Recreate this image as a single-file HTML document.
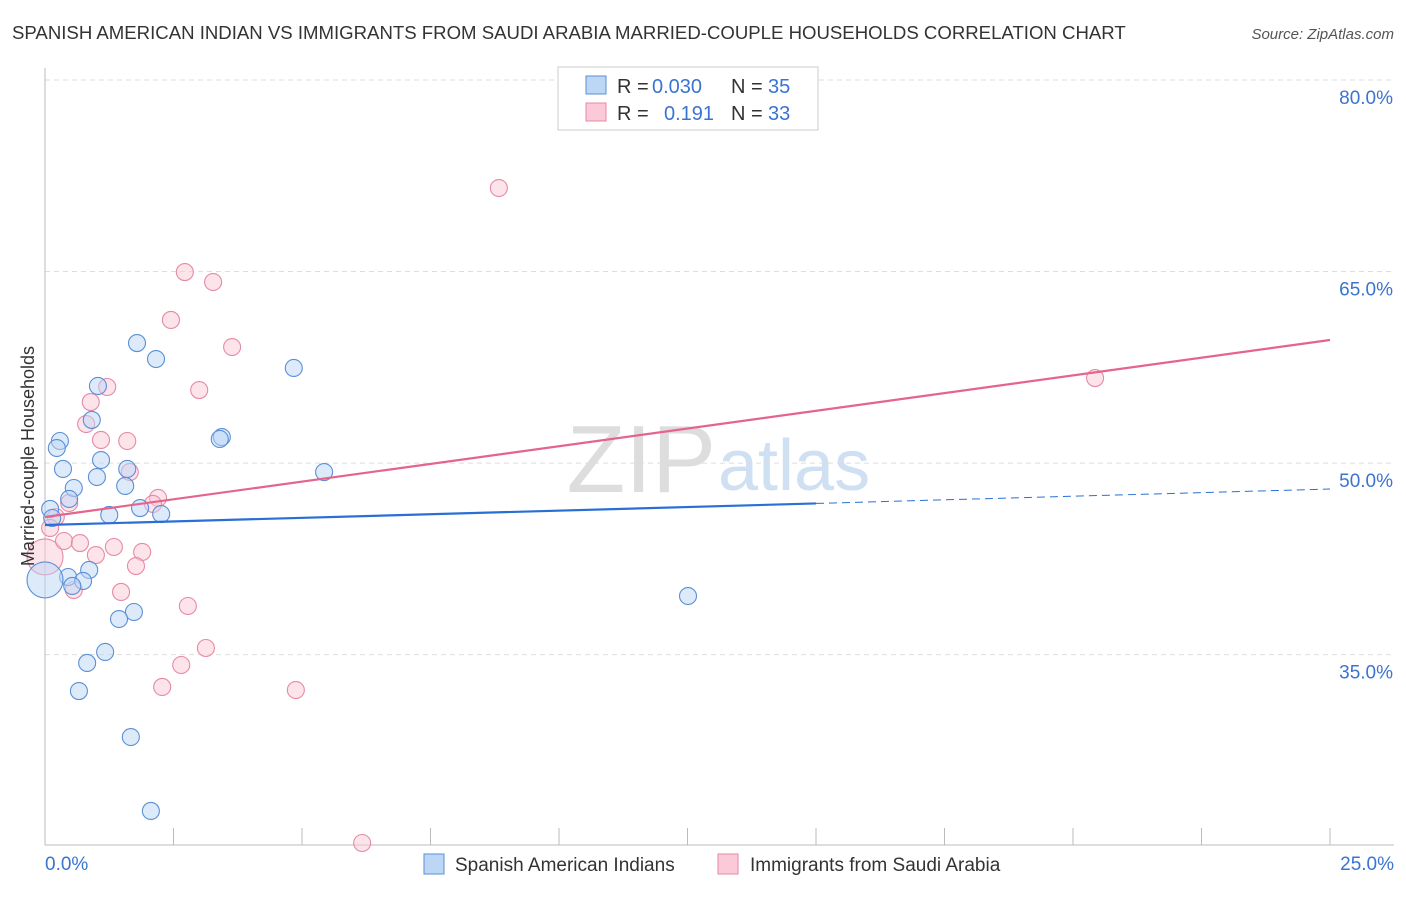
<!DOCTYPE html>
<html><head><meta charset="utf-8"><style>
body{margin:0;background:#fff;font-family:"Liberation Sans",sans-serif}
svg text{font-family:"Liberation Sans",sans-serif}
</style></head><body>
<svg width="1406" height="892" id="chart">
<text x="12" y="39" font-size="18.6" fill="#333">SPANISH AMERICAN INDIAN VS IMMIGRANTS FROM SAUDI ARABIA MARRIED-COUPLE HOUSEHOLDS CORRELATION CHART</text>
<text x="1394" y="39" font-size="15" fill="#555" font-style="italic" text-anchor="end">Source: ZipAtlas.com</text>
<text x="716" y="492" font-size="96" fill="#ddd" text-anchor="end" font-family="Liberation Serif">ZIP</text>
<text x="718" y="490" font-size="72" fill="#cfe0f2">atlas</text>
<g id="grid"></g>
<g id="marks"></g>
<text transform="translate(34,456) rotate(-90)" font-size="18" fill="#333" text-anchor="middle">Married-couple Households</text>
<rect x="558" y="67" width="260" height="63" fill="#fff" stroke="#ccc"/>
<rect x="586" y="76" width="20" height="18" fill="#bcd6f6" stroke="#5b8fd6"/>
<rect x="586" y="103" width="20" height="18" fill="#fbc9d7" stroke="#e58aa5"/>
<g font-size="20">
<text x="617" y="93" fill="#333">R =</text><text x="652" y="93" fill="#3a74d0">0.030</text>
<text x="731" y="93" fill="#333">N =</text><text x="768" y="93" fill="#3a74d0">35</text>
<text x="617" y="120" fill="#333">R =</text><text x="664" y="120" fill="#3a74d0">0.191</text>
<text x="731" y="120" fill="#333">N =</text><text x="768" y="120" fill="#3a74d0">33</text>
</g>
<rect x="424" y="854" width="20" height="20" fill="#bcd6f6" stroke="#5b8fd6"/>
<text x="455" y="871" font-size="19" fill="#333">Spanish American Indians</text>
<rect x="718" y="854" width="20" height="20" fill="#fbc9d7" stroke="#e58aa5"/>
<text x="750" y="871" font-size="19" fill="#333">Immigrants from Saudi Arabia</text>
</svg>
<script>
const blueX=[1.79,2.16,4.84,1.03,0.91,0.29,0.23,3.44,3.40,1.09,0.35,1.60,1.01,5.43,1.56,0.56,0.47,1.85,1.25,2.26,0.10,0.14,0.86,0.45,0.74,0.53,12.51,1.73,1.44,1.17,0.82,0.66,1.67,2.06,0];
const blueY=[59.40,58.15,57.45,56.04,53.38,51.73,51.18,52.04,51.89,50.24,49.54,49.54,48.91,49.30,48.21,48.05,47.19,46.48,45.94,46.01,46.41,45.70,41.63,41.08,40.77,40.38,39.59,38.34,37.79,35.21,34.35,32.15,28.55,22.76,40.85];
const pinkX=[8.83,2.72,3.27,2.45,3.64,3.00,1.21,0.89,0.80,1.09,1.60,1.65,2.20,2.10,0.47,0.21,0.10,0,0.37,0.68,0.99,1.34,1.89,1.77,1.48,0.56,2.78,3.13,2.65,2.28,4.88,6.17,20.43];
const pinkY=[71.54,64.96,64.18,61.21,59.09,55.72,55.96,54.78,53.06,51.81,51.73,49.30,47.27,46.80,46.88,45.78,44.92,42.65,43.90,43.74,42.80,43.43,43.04,41.94,39.91,40.06,38.81,35.52,34.19,32.47,32.23,20.25,56.66];
const yTicks=[80,65,50,35];
const xTickLabels=["0.0%","25.0%"];
const blueTrend=[45.15,47.97];
const pinkTrend=[45.78,59.64];
const sx=v=>45+v*51.4, sy=v=>80+(80-v)*12.77;
const NS="http://www.w3.org/2000/svg";
function mk(t,a,p){const e=document.createElementNS(NS,t);for(const k in a)e.setAttribute(k,a[k]);p.appendChild(e);return e;}
const grid=document.getElementById('grid'),marks=document.getElementById('marks');
yTicks.forEach(v=>{
 const l=mk('line',{x1:45,x2:1394,y1:sy(v),y2:sy(v),stroke:'#ddd','stroke-dasharray':'5,4'},grid);
 
 
 const t=mk('text',{x:1393,y:sy(v)+24,'font-size':19,fill:'#3a74d0','text-anchor':'end'},grid);
 t.textContent=v.toFixed(1)+'%';
 
 
});
const ax=mk('line',{x1:45,x2:45,y1:68,y2:845,stroke:'#bbb'},grid);


const bx=mk('line',{x1:45,x2:1394,y1:845,y2:845,stroke:'#bbb'},grid);


for(let i=0;i<=10;i++){
 const tk=mk('line',{x1:sx(i*2.5),x2:sx(i*2.5),y1:828,y2:845,stroke:'#bbb'},grid);
 
 
}
[[0,'start',45],[25,'end',1394]].forEach((d,i)=>{
 const t=mk('text',{x:d[2],y:870,'font-size':19,fill:'#3a74d0','text-anchor':d[1]},grid);
 t.textContent=xTickLabels[i];
 
 
});
function dot(x,y,big,fill,stroke,name){
 const c=mk('circle',{cx:sx(x),cy:sy(y),r:big?18:8.5,fill:fill,'fill-opacity':0.5,stroke:stroke,'stroke-width':1.1},marks);
 
 
}
pinkX.forEach((x,i)=>dot(x,pinkY[i],x===0,'#fbc9d7','#e58aa5','pink-point'));
blueX.forEach((x,i)=>dot(x,blueY[i],x===0,'#bcd6f6','#5b8fd6','blue-point'));
const bMid=blueTrend[0]+(blueTrend[1]-blueTrend[0])*15/25;
const l1=mk('line',{x1:sx(0),y1:sy(blueTrend[0]),x2:sx(15),y2:sy(bMid),stroke:'#2a6fd6','stroke-width':2.2},marks);


const l2=mk('line',{x1:sx(15),y1:sy(bMid),x2:sx(25),y2:sy(blueTrend[1]),stroke:'#2a6fd6','stroke-width':1,'stroke-dasharray':'8,5'},marks);


const l3=mk('line',{x1:sx(0),y1:sy(pinkTrend[0]),x2:sx(25),y2:sy(pinkTrend[1]),stroke:'#e4648c','stroke-width':2.2},marks);


</script>
</body></html>
